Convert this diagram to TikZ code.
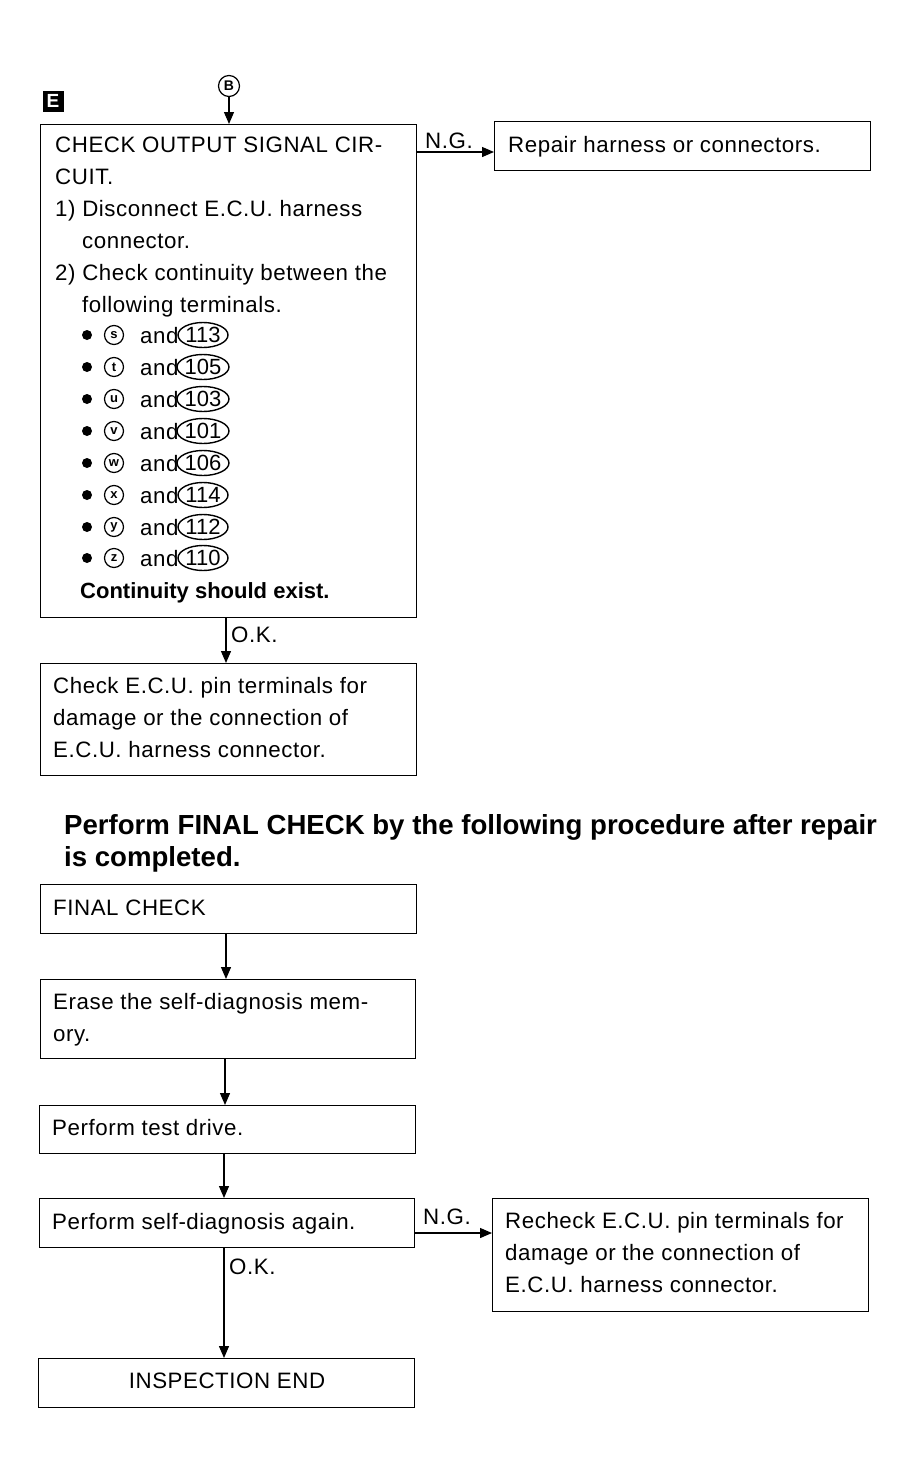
\documentclass[tikz,border=0pt]{standalone}
\usepackage{fontspec}
\setmainfont{Liberation Sans}[LetterSpace=2.5]
\newfontfamily\bfam{Liberation Sans}
\usetikzlibrary{arrows.meta,calc,shapes.geometric}
\begin{document}
\begin{tikzpicture}[x=1pt,y=-1pt,
  box/.style={draw, line width=1.3pt, anchor=north west, inner sep=0pt, minimum height=#1},
  txt/.style={anchor=base west, inner sep=0pt, font=\fontsize{22.3}{26}\selectfont},
  btxt/.style={anchor=base west, inner sep=0pt, font=\fontsize{22}{26}\bfam\bfseries},
  htxt/.style={anchor=base west, inner sep=0pt, font=\fontsize{27.6}{32}\bfam\bfseries},
  arr/.style={-{Triangle[length=12pt,width=10pt]}, line width=1.3pt},
  ltr/.style={draw, circle, line width=1.2pt, minimum size=19pt, inner sep=0pt, font=\fontsize{13}{13}\bfam\bfseries},
  oval/.style={draw, ellipse, line width=1.4pt, minimum width=50pt, minimum height=25pt, inner sep=0pt, font=\fontsize{22}{24}\bfam},
  bul/.style={fill, circle, minimum size=10pt, inner sep=0pt}
]
\useasboundingbox (0,0) rectangle (914,1483);

% top markers
\node[fill=black, text=white, minimum size=21pt, inner sep=0pt, font=\fontsize{19}{19}\bfam\bfseries] (E) at (53,101) {E};
\node[ltr, minimum size=21pt, font=\fontsize{14}{14}\bfam\bfseries] (bc) at (229,86) {B};

% boxes
\node[box=493pt, minimum width=376pt] (b1) at (40,124) {};
\node[box=49pt, minimum width=376pt] (b2) at (494,121) {};
\node[box=112pt, minimum width=376pt] (b3) at (40,663) {};
\node[box=49pt, minimum width=376pt] (f1) at (40,884) {};
\node[box=79pt, minimum width=375pt] (f2) at (40,979) {};
\node[box=48pt, minimum width=376pt] (f3) at (39,1105) {};
\node[box=49pt, minimum width=375pt] (f4) at (39,1198) {};
\node[box=113pt, minimum width=376pt] (f5) at (492,1198) {};
\node[box=49pt, minimum width=376pt] (f6) at (38,1358) {};

% box 1 text
\node[txt] (t1) at (55,152) {CHECK OUTPUT SIGNAL CIR-};
\node[txt] (t2) at (55,184) {CUIT.};
\node[txt] (t3) at (55,216) {1) Disconnect E.C.U. harness};
\node[txt] (t4) at (82,248) {connector.};
\node[txt] (t5) at (55,280) {2) Check continuity between the};
\node[txt] (t6) at (82,312) {following terminals.};
\foreach \l/\n/\y [count=\i] in {s/113/335,t/105/367,u/103/399,v/101/431,w/106/463,x/114/495,y/112/527,z/110/558}{
  \node[bul] (bu\i) at (87,\y) {};
  \node[ltr] (lt\i) at (114,\y) {\l};
  \node[txt] (an\i) at (140,\y+8) {and};
  \node[oval] (ov\i) at (203,\y) {\n};
}
\node[btxt] (t7) at (80,598) {Continuity should exist.};

% repair box
\node[txt] (r1) at (508,152) {Repair harness or connectors.};

% box 3
\node[txt] (c1) at (53,693) {Check E.C.U. pin terminals for};
\node[txt] (c2) at (53,725) {damage or the connection of};
\node[txt] (c3) at (53,757) {E.C.U. harness connector.};

% heading
\node[htxt] (h1) at (64,834) {Perform FINAL CHECK by the following procedure after repair};
\node[htxt] (h2) at (64,866) {is completed.};

% final check boxes text
\node[txt] (g1) at (53,915) {FINAL CHECK};
\node[txt] (g2) at (53,1009) {Erase the self-diagnosis mem-};
\node[txt] (g3) at (53,1041) {ory.};
\node[txt] (g4) at (52,1135) {Perform test drive.};
\node[txt] (g5) at (52,1229) {Perform self-diagnosis again.};
\node[txt] (g6) at (505,1228) {Recheck E.C.U. pin terminals for};
\node[txt] (g7) at (505,1260) {damage or the connection of};
\node[txt] (g8) at (505,1292) {E.C.U. harness connector.};
\node[txt, anchor=base] (g9) at (227,1388) {INSPECTION END};

% connectors
\draw[arr] (bc) -- (bc |- b1.north);
\coordinate (ng1) at ($(b1.north east)+(0,28)$);
\draw[arr] (ng1) -- (ng1 -| b2.west);
\node[txt] (lng1) at (425,148) {N.G.};

\coordinate (ok1) at ($(b1.south west)+(186,0)$);
\draw[arr] (ok1) -- (ok1 |- b3.north);
\node[txt] (lok1) at (231,642) {O.K.};

\coordinate (a1) at ($(f1.south west)+(186,0)$);
\draw[arr] (a1) -- (a1 |- f2.north);
\coordinate (a2) at ($(f2.south west)+(185,0)$);
\draw[arr] (a2) -- (a2 |- f3.north);
\coordinate (a3) at ($(f3.south west)+(185,0)$);
\draw[arr] (a3) -- (a3 |- f4.north);
\coordinate (ng2) at ($(f4.north east)+(0,35)$);
\draw[arr] (ng2) -- (ng2 -| f5.west);
\node[txt] (lng2) at (423,1224) {N.G.};
\coordinate (a4) at ($(f4.south west)+(185,0)$);
\draw[arr] (a4) -- (a4 |- f6.north);
\node[txt] (lok2) at (229,1274) {O.K.};
\end{tikzpicture}
\end{document}
